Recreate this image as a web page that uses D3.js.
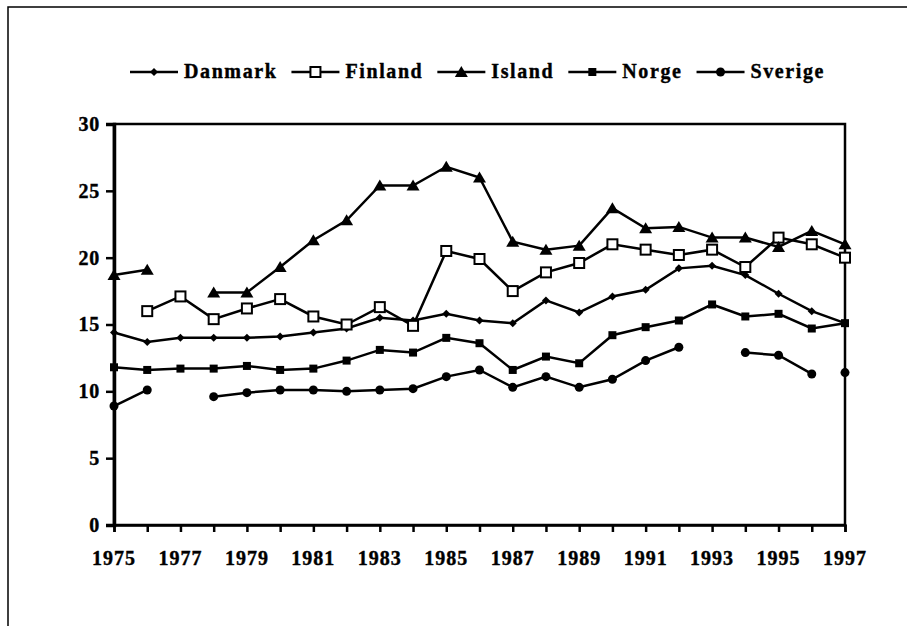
<!DOCTYPE html>
<html>
<head>
<meta charset="utf-8">
<script src="https://cdn.jsdelivr.net/npm/d3@7"></script>
<style>
  body { margin: 0; background: #fff; }
  svg { display: block; }
  text { font-family: "Liberation Serif", "Times New Roman", serif; font-weight: bold; fill: #000; stroke: #000; stroke-width: 0.4px; }
</style>
</head>
<body>
<svg width="907" height="626"></svg>
<script>
const years = d3.range(1975, 1998)
const yTicks = [0, 5, 10, 15, 20, 25, 30]
const xLabels = [1975, 1977, 1979, 1981, 1983, 1985, 1987, 1989, 1991, 1993, 1995, 1997]

const danmark = [14.4, 13.7, 14.0, 14.0, 14.0, 14.1, 14.4, 14.7, 15.5, 15.3, 15.8, 15.3, 15.1, 16.8, 15.9, 17.1, 17.6, 19.2, 19.4, 18.7, 17.3, 16.0, 15.1]
const finland = [null, 16.0, 17.1, 15.4, 16.2, 16.9, 15.6, 15.0, 16.3, 14.9, 20.5, 19.9, 17.5, 18.9, 19.6, 21.0, 20.6, 20.2, 20.6, 19.3, 21.5, 21.0, 20.0]
const island = [18.7, 19.1, null, 17.4, 17.4, 19.3, 21.3, 22.8, 25.4, 25.4, 26.8, 26.0, 21.2, 20.6, 20.9, 23.7, 22.2, 22.3, 21.5, 21.5, 20.8, 22.0, 21.0]
const norge = [11.8, 11.6, 11.7, 11.7, 11.9, 11.6, 11.7, 12.3, 13.1, 12.9, 14.0, 13.6, 11.6, 12.6, 12.1, 14.2, 14.8, 15.3, 16.5, 15.6, 15.8, 14.7, 15.1]
const sverige = [8.9, 10.1, null, 9.6, 9.9, 10.1, 10.1, 10.0, 10.1, 10.2, 11.1, 11.6, 10.3, 11.1, 10.3, 10.9, 12.3, 13.3, null, 12.9, 12.7, 11.3, 11.4]
// year where the original line is not joined to the previous point
const sverigeBreaks = [1997]

const series = [
	{name: 'Danmark', values: danmark, marker: 'diamond', breaks: []},
	{name: 'Finland', values: finland, marker: 'square', breaks: []},
	{name: 'Island', values: island, marker: 'triangle', breaks: []},
	{name: 'Norge', values: norge, marker: 'smallsquare', breaks: []},
	{name: 'Sverige', values: sverige, marker: 'circle', breaks: sverigeBreaks}
]

const svg = d3.select('svg')
const plotL = 114, plotR = 845, plotT = 124, plotB = 525

const x = d3.scaleLinear().domain([1975, 1997]).range([plotL, plotR])
const y = d3.scaleLinear().domain([0, 30]).range([plotB, plotT])

// outer frame (only top and left edge show)
svg.append('rect')
	.attr('x', 8).attr('y', 7)
	.attr('width', 1000).attr('height', 1000)
	.attr('fill', 'none').attr('stroke', '#000').attr('stroke-width', 1.5)

// plot box
svg.append('rect')
	.attr('x', plotL).attr('y', plotT)
	.attr('width', plotR - plotL).attr('height', plotB - plotT)
	.attr('fill', 'none').attr('stroke', '#000').attr('stroke-width', 2.5)

// y axis
const yAxis = svg.append('g')
	.attr('transform', `translate(${plotL},0)`)
	.call(d3.axisLeft(y).tickValues(yTicks).tickSize(8).tickPadding(6).tickFormat(d3.format('d')))
yAxis.select('.domain').attr('stroke-width', 3.5)
yAxis.selectAll('.tick line').attr('stroke-width', 2.5)
yAxis.selectAll('.tick text')
	.style('font-family', '"Liberation Serif", serif').style('font-weight', 'bold')
	.style('font-size', '20px').style('letter-spacing', '0.8px')

// x axis
const xAxis = svg.append('g')
	.attr('transform', `translate(0,${plotB})`)
	.call(d3.axisBottom(x).tickValues(years).tickSize(7).tickPadding(0).tickFormat(''))
xAxis.select('.domain').attr('stroke-width', 2.5)
xAxis.selectAll('.tick line').attr('stroke-width', 2.5)

svg.append('g').selectAll('text')
	.data(xLabels)
	.join('text')
	.attr('x', d => x(d))
	.attr('y', 565)
	.attr('text-anchor', 'middle')
	.style('font-size', '20px')
	.style('letter-spacing', '1px')
	.text(d => d)

function segments(s) {
	const segs = []
	let cur = []
	years.forEach((yr, i) => {
		const v = s.values[i]
		if (v == null || s.breaks.includes(yr)) {
			if (cur.length) segs.push(cur)
			cur = []
		}
		if (v != null) cur.push({year: yr, v: v})
	})
	if (cur.length) segs.push(cur)
	return segs
}

const line = d3.line().x(d => x(d.year)).y(d => y(d.v))

function drawMarker(g, type, cx, cy) {
	if (type === 'diamond') {
		g.append('path').attr('d', `M${cx},${cy - 4}L${cx + 4},${cy}L${cx},${cy + 4}L${cx - 4},${cy}Z`).attr('fill', '#000')
	} else if (type === 'square') {
		g.append('rect').attr('x', cx - 5).attr('y', cy - 5).attr('width', 10).attr('height', 10)
			.attr('fill', '#fff').attr('stroke', '#000').attr('stroke-width', 2)
	} else if (type === 'triangle') {
		g.append('path').attr('d', `M${cx},${cy - 6}L${cx + 6.5},${cy + 5}L${cx - 6.5},${cy + 5}Z`).attr('fill', '#000')
	} else if (type === 'smallsquare') {
		g.append('rect').attr('x', cx - 4).attr('y', cy - 4).attr('width', 8).attr('height', 8).attr('fill', '#000')
	} else {
		g.append('circle').attr('cx', cx).attr('cy', cy).attr('r', 4.5).attr('fill', '#000')
	}
}

const plot = svg.append('g')
series.forEach(s => {
	plot.selectAll(null)
		.data(segments(s))
		.join('path')
		.attr('d', line)
		.attr('fill', 'none')
		.attr('stroke', '#000')
		.attr('stroke-width', 2.5)
})
series.forEach(s => {
	const g = plot.append('g')
	years.forEach((yr, i) => {
		if (s.values[i] != null) drawMarker(g, s.marker, x(yr), y(s.values[i]))
	})
})

// legend
const legend = svg.append('g')
let lx = 130
const ly = 72
series.forEach(s => {
	legend.append('line')
		.attr('x1', lx).attr('x2', lx + 48).attr('y1', ly).attr('y2', ly)
		.attr('stroke', '#000').attr('stroke-width', 2.5)
	drawMarker(legend, s.marker, lx + 24, ly)
	const t = legend.append('text')
		.attr('x', lx + 54).attr('y', ly + 6)
		.style('font-size', '20px')
		.style('letter-spacing', '1.6px')
		.text(s.name)
	lx += 54 + t.node().getComputedTextLength() + 14
})
</script>
</body>
</html>
